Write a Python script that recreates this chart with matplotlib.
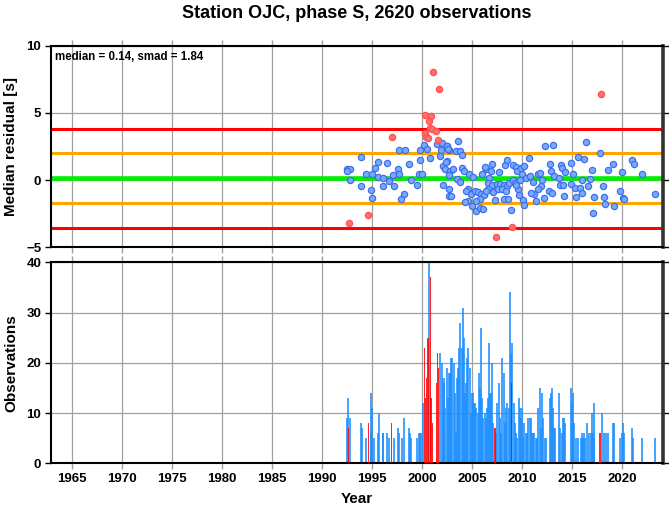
import matplotlib
matplotlib.use("Agg")
import matplotlib.pyplot as plt

plt.rcParams['font.family'] = ['Liberation Sans', 'DejaVu Sans']
plt.rcParams['font.weight'] = 'bold'

title = "Station OJC, phase S, 2620 observations"
median_val = 0.14
smad_val = 1.84

# ---- residual points (year, median residual) ----
blue_years = [
    1993.9, 1992.5, 1992.8, 1992.43, 1992.77, 1993.84, 1994.37, 1994.97, 1995.24, 1995.57,
    1996.47, 1995.54, 1996.1, 1996.67, 1997.04, 1997.14, 1996.04, 1994.84, 1995.0, 1997.54,
    1997.7, 1998.14, 1997.84, 1997.64, 1998.24, 1998.64, 1998.9, 1999.47, 1999.64, 1999.97,
    1999.8, 1999.74, 2000.14, 2000.47, 2000.74, 2001.47, 2001.97, 2001.84, 2002.5, 2001.74,
    2002.07, 2002.47, 2002.27, 2002.74, 2002.1, 2002.7, 2002.7, 2002.64, 2002.64,
    2002.44, 2002.6, 2003.6, 2003.4, 2003.8, 2004.0, 2002.4, 2003.04, 2003.94, 2004.2,
    2003.47, 2003.74, 2002.84, 2004.67, 2005.1, 2004.6, 2004.4, 2004.87, 2004.57, 2004.24,
    2005.0, 2005.34, 2005.74, 2006.07, 2005.27, 2005.6, 2005.87, 2006.2, 2005.74, 2005.4,
    2005.94, 2006.37, 2006.27, 2006.64, 2006.84, 2006.94, 2006.54, 2006.94, 2006.6, 2007.1,
    2006.4, 2007.27, 2007.67, 2007.44, 2007.8, 2008.17, 2008.44, 2008.67, 2008.27, 2008.47,
    2008.2, 2008.6, 2007.6, 2008.0, 2008.37, 2008.87, 2009.1, 2009.34, 2009.47, 2009.07,
    2009.27, 2009.54, 2009.37, 2009.84, 2010.17, 2009.97, 2009.8, 2009.67, 2010.07, 2010.14,
    2010.37, 2010.7, 2010.8, 2011.04, 2011.2, 2011.34, 2010.84, 2011.54, 2011.8, 2011.97,
    2011.87, 2011.6, 2012.14, 2012.27, 2013.04, 2012.8, 2012.87, 2012.67, 2012.94,
    2016.34, 2017.77, 2015.57, 2016.17, 2013.87, 2013.97, 2014.24, 2014.9, 2015.04, 2013.17,
    2013.7, 2013.77, 2014.1, 2014.17, 2014.84, 2015.3, 2015.8, 2015.94, 2016.54, 2015.34,
    2016.0, 2016.77, 2016.97, 2017.1, 2017.17, 2018.14, 2018.04, 2018.3, 2019.14, 2018.54,
    2019.04, 2019.8, 2020.04, 2020.17, 2019.97, 2020.97, 2021.17, 2021.94, 2023.27,
]
blue_vals = [
    1.74, 0.81, 0.79, 0.70, 0.00, -0.42, 0.47, 0.49, 0.88, 1.32,
    1.25, 0.20, 0.12, -0.07, 0.35, -0.42, -0.46, -0.73, -1.32, 0.85,
    0.44, -1.05, -1.44, 2.26, 2.26, 1.18, 0.00, -0.39, 0.49, 0.49,
    1.52, 2.26, 2.60, 2.35, 1.67, 2.69, 2.74, 2.26, 2.56, 1.77,
    1.08, 1.40, 0.84, 0.70, -0.37, -0.67, -1.19, 2.26, 0.39,
    2.57, 2.30, 2.92, 2.20, 2.14, 1.88, 1.37, 0.79, 0.90, 0.68,
    0.05, -0.12, -1.20, 0.42, 0.25, -0.63, -0.83, -1.03, -1.57, -1.64,
    -1.94, -2.28, -2.09, -2.16, -0.81, -0.85, -1.05, -1.10, -1.37, -1.54,
    0.42, 0.79, 0.96, 0.17, 0.68, 1.22, -0.25, -0.39, -0.69, -0.88,
    -0.79, -1.51, 0.61, -0.32, -0.27, -0.39, -0.44, -0.22, 1.15, 1.50,
    -1.44, -1.37, -0.69, -0.69, -0.81, -2.23, 1.12, 0.96, 0.64, 0.00,
    -0.25, -0.63, -0.39, 0.88, 1.05, 0.49, -0.02, -1.10, -1.51, -1.84,
    0.12, 1.67, 0.34, -0.15, -1.05, -1.54, -0.98, 0.47, 0.54, 0.00,
    -0.44, -0.63, -1.30, 2.54, 2.62, 1.20, 0.71, -0.83, -0.98,
    2.87, 2.04, 1.73, 1.56, 1.16, 0.88, 0.61, 1.25, 0.49, 0.30,
    0.17, -0.37, -0.37, -1.20, -0.27, -0.56, -0.59, -0.93, -0.44, -1.25,
    0.03, 0.10, 0.74, -2.43, -1.25, -1.25, -0.42, -1.76, -1.91, 0.74,
    1.18, -0.83, -1.32, -1.42, 0.59, 1.47, 1.20, 0.49, -1.00,
]
red_years = [2001.07, 2001.64, 2000.30, 2000.90, 2000.64, 2000.77, 2001.00, 2001.40, 2000.24,
             2000.40, 2000.57, 2001.60, 1996.94, 1994.57, 1992.67, 2008.94, 2007.34, 2017.84]
red_vals = [8.04, 6.79, 4.88, 4.76, 4.41, 3.85, 3.80, 3.65, 3.48,
            3.24, 3.10, 2.97, 3.21, -2.60, -3.21, -3.48, -4.24, 6.40]

# ---- observation counts per bin ----
bar_years = [
    1992.44, 1992.54, 1992.80, 1993.84, 1993.94, 1994.34, 1994.84, 1994.90, 1994.97, 1995.20,
    1995.54, 1995.64, 1996.04, 1996.10, 1996.44, 1996.70, 1997.14, 1997.54, 1997.70, 1997.97,
    1998.20, 1998.64, 1998.77, 1998.90, 1999.47, 1999.64, 1999.77, 1999.90, 2000.07, 2000.70,
    2001.74, 2001.94, 2002.04, 2002.14, 2002.22,
    2002.31, 2002.44, 2002.54, 2002.67, 2002.77, 2002.87, 2003.00, 2003.17, 2003.27, 2003.37,
    2003.47, 2003.57, 2003.70, 2003.80, 2003.94, 2004.04, 2004.17, 2004.27, 2004.40, 2004.50,
    2004.60, 2004.74, 2004.87, 2004.94, 2005.07, 2005.20, 2005.30, 2005.40, 2005.54, 2005.64,
    2005.77, 2005.87, 2005.97, 2006.10, 2006.24, 2006.34, 2006.44, 2006.54, 2006.64, 2006.74,
    2006.84, 2006.97, 2007.10, 2007.37, 2007.50, 2007.64, 2007.74, 2007.87, 2007.97, 2008.14,
    2008.27, 2008.40, 2008.50, 2008.64, 2008.77, 2008.84, 2009.00, 2009.14, 2009.24, 2009.37,
    2009.50, 2009.64, 2009.77, 2009.90, 2010.00, 2010.10, 2010.20, 2010.34, 2010.47, 2010.60,
    2010.74, 2010.87, 2010.97, 2011.10, 2011.20, 2011.34, 2011.47, 2011.60, 2011.74, 2011.84,
    2011.97, 2012.10, 2012.24, 2012.34, 2012.74, 2012.84, 2012.94, 2013.07, 2013.20, 2013.27,
    2013.70, 2013.80, 2013.94, 2014.04, 2014.17, 2014.27, 2014.84, 2014.94, 2015.04, 2015.17,
    2015.37, 2015.60, 2015.84, 2015.94, 2016.04, 2016.17, 2016.27, 2016.50, 2016.67, 2016.84,
    2016.94, 2017.04, 2017.14, 2017.20, 2018.00, 2018.17, 2018.37, 2018.57, 2019.04, 2019.14,
    2019.80, 2019.94, 2020.07, 2020.17, 2020.97, 2021.10, 2021.94, 2023.30,
]
bar_counts = [
    9, 13, 9, 8, 7, 5, 14, 6, 11, 5,
    6, 10, 6, 6, 6, 5, 5, 7, 6, 5,
    9, 7, 6, 5, 5, 6, 6, 6, 12, 40,
    22, 20, 17, 16, 17,
    11, 19, 13, 18, 18, 21, 21, 20, 14, 6,
    17, 19, 23, 28, 23, 31, 25, 14, 16, 21,
    23, 19, 10, 14, 14, 12, 12, 11, 10, 18,
    15, 27, 13, 9, 10, 9, 11, 13, 24, 14,
    14, 20, 8, 6, 12, 16, 9, 6, 21, 18,
    8, 11, 12, 11, 34, 22, 24, 12, 8, 6,
    5, 13, 11, 9, 11, 5, 8, 6, 6, 9,
    9, 9, 6, 6, 6, 5, 5, 11, 15, 7,
    14, 9, 5, 5, 13, 14, 15, 11, 7, 7,
    14, 7, 6, 9, 9, 8, 15, 12, 14, 8,
    5, 5, 5, 6, 5, 6, 5, 8, 6, 6,
    10, 6, 12, 5, 10, 6, 6, 6, 8, 8,
    5, 6, 8, 6, 7, 5, 5, 5,
]
red_bar_years = [1992.64, 1994.60, 1996.94, 2000.24, 2000.32, 2000.40, 2000.57, 2000.80, 2000.87,
                 2001.04, 2001.44, 2001.54, 2001.64, 2007.27, 2008.94, 2017.77]
red_bar_counts = [7, 8, 8, 23, 13, 17, 25, 37, 13,
                  8, 16, 22, 19, 7, 16, 6]

x_ticks = [1965, 1970, 1975, 1980, 1985, 1990, 1995, 2000, 2005, 2010, 2015, 2020]
res_ticks = [-5, 0, 5, 10]
obs_ticks = [0, 10, 20, 30, 40]

W, H = 669, 511
fig = plt.figure(figsize=(W / 100, H / 100), dpi=100)
L, R = 51 / W, 663 / W
ax1 = fig.add_axes([L, 1 - 247.3 / H, R - L, (247.3 - 45.7) / H])
ax2 = fig.add_axes([L, 1 - 463.3 / H, R - L, (463.3 - 262.3) / H])

xlim = (1962.87, 2024.07)

for ax in (ax1, ax2):
    ax.set_xlim(*xlim)
    ax.set_xticks(x_ticks)
    ax.grid(True, color='#a0a0a0', linewidth=0.9)
    ax.set_axisbelow(True)
    ax.tick_params(direction='out', length=4, width=1, top=True, right=True,
                   labelsize=9.5, pad=3)
    ax.tick_params(axis='x', color='#a0a0a0')
    for s in ('left', 'top', 'bottom'):
        ax.spines[s].set_linewidth(1.5)
        ax.spines[s].set_color('black')
    ax.spines['right'].set_linewidth(2.6)
    ax.spines['right'].set_color('#333333')

# top panel
ax1.set_ylim(-5, 10)
ax1.set_yticks(res_ticks)
ax1.tick_params(axis='x', labelbottom=False)
ax1.tick_params(axis='y', labelright=False)
ax1.axhline(median_val + 2 * smad_val, color='#ff0000', lw=2.2, zorder=2)
ax1.axhline(median_val - 2 * smad_val, color='#ff0000', lw=2.2, zorder=2)
ax1.axhline(median_val + smad_val, color='#ffa500', lw=2.2, zorder=2)
ax1.axhline(median_val - smad_val, color='#ffa500', lw=2.2, zorder=2)
ax1.axhline(median_val, color='#00ee00', lw=3.3, zorder=2)
ax1.scatter(blue_years, blue_vals, s=20, facecolor='#77aaff', edgecolor='#3f6fe8',
            linewidth=0.9, zorder=3)
ax1.scatter(red_years, red_vals, s=20, facecolor='#ff7070', edgecolor='#ff5050',
            linewidth=0.9, zorder=3)
ax1.text(0.007, 0.975, f"median = {median_val:.2f}, smad = {smad_val:.2f}",
         transform=ax1.transAxes, ha='left', va='top', fontsize=8.3, fontweight='bold')
ax1.set_ylabel("Median residual [s]", fontsize=11, fontweight='bold', labelpad=6)
ax1.set_title(title, fontsize=13, fontweight='bold', pad=20)

# bottom panel
ax2.set_ylim(0, 40)
ax2.set_yticks(obs_ticks)
ax2.tick_params(axis='y', labelright=False)
ax2.bar(bar_years, bar_counts, width=0.17, color='#1e90ff', alpha=0.82, linewidth=0, zorder=2)
ax2.bar(red_bar_years, red_bar_counts, width=0.12, color='#ff0000', alpha=0.85, linewidth=0, zorder=3)
ax2.set_ylabel("Observations", fontsize=11, fontweight='bold', labelpad=6)
ax2.set_xlabel("Year", fontsize=11, fontweight='bold', labelpad=5)

fig.savefig("out.png", dpi=100)
